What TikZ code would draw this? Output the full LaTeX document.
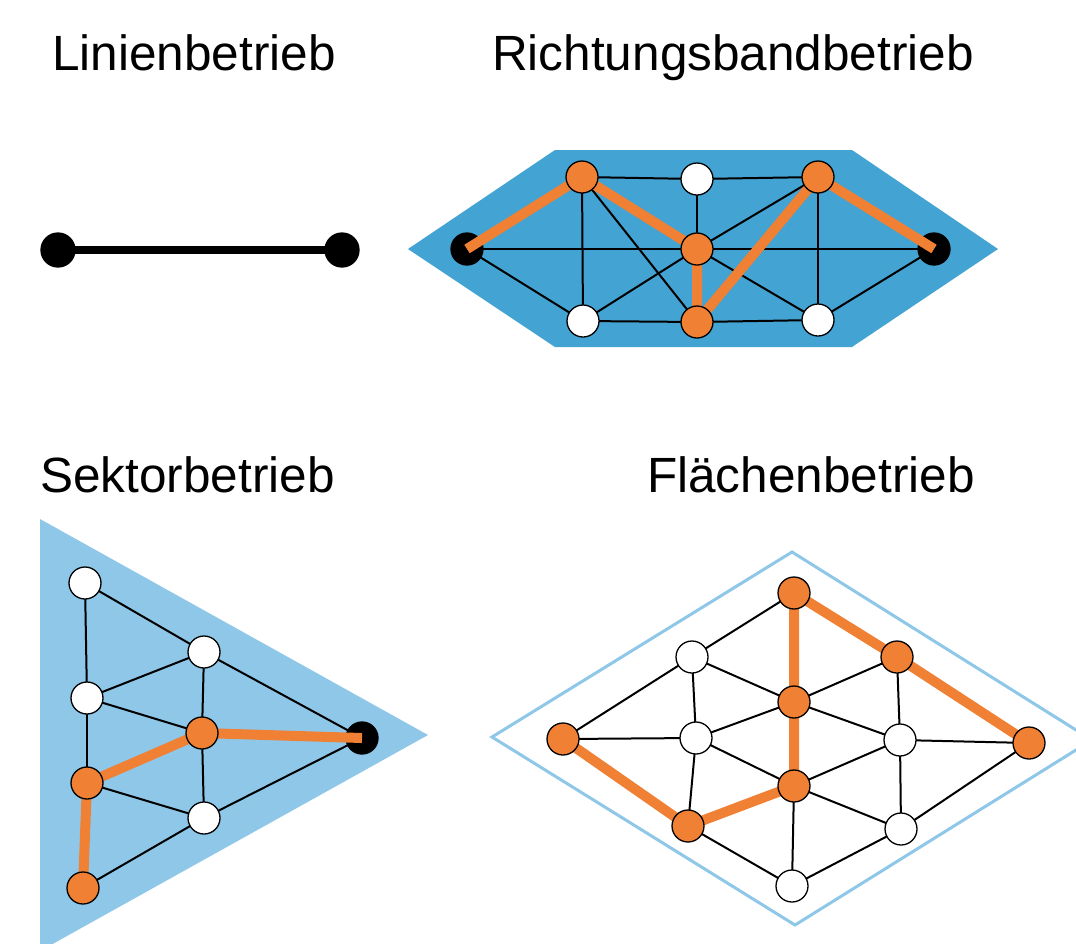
\documentclass[tikz,border=0pt]{standalone}
\usepackage{fontspec}
\setmainfont{Liberation Sans}
\definecolor{orng}{RGB}{240,128,52}
\definecolor{dblue}{RGB}{67,163,210}
\definecolor{lblue}{RGB}{142,199,232}
\pgfdeclarelayer{bg}
\pgfdeclarelayer{edges}
\pgfdeclarelayer{blk}
\pgfdeclarelayer{route}
\pgfsetlayers{bg,edges,blk,route,main}
\begin{document}
\begin{tikzpicture}[x=1pt,y=-1pt,
  vtx/.style={circle,draw=black,line width=1.3pt,minimum size=32pt,inner sep=0pt,outer sep=0pt},
  wv/.style={vtx,fill=white},
  ov/.style={vtx,fill=orng},
  bv/.style={vtx,fill=black},
  edge/.style={line width=2pt},
  route/.style={orng,line width=10pt,line cap=butt,line join=round},
  title/.style={anchor=base west,inner sep=0pt,font=\fontsize{49.5}{58}\selectfont}]
\clip (0,0) rectangle (1076,943);
% titles
\node[title] (t1) at (52,70) {Linienbetrieb};
\node[title] (t2) at (492,70) {Richtungsbandbetrieb};
\node[title] (t3) at (40,492) {Sektorbetrieb};
\node[title] (t4) at (647,492) {Flächenbetrieb};
% ---------- Linienbetrieb
\node[bv,minimum size=34pt] (la) at (58,250) {};
\node[bv,minimum size=34pt] (lb) at (342,250) {};
\begin{pgfonlayer}{edges}
\draw[line width=8pt] (la.center) -- (lb.center);
\end{pgfonlayer}
% ---------- Richtungsbandbetrieb
\begin{pgfonlayer}{bg}
\fill[dblue] (408,249) -- (555,150) -- (852,150) -- (998,249) -- (852,347) -- (555,347) -- cycle;
\end{pgfonlayer}
\begin{pgfonlayer}{blk}
\node[bv] (rbL) at (467,249) {};
\node[bv] (rbR) at (934,249) {};
\end{pgfonlayer}
\node[ov] (ro1) at (582,177) {};
\node[wv] (rwt) at (697,179) {};
\node[ov] (ro2) at (818,177) {};
\node[ov] (roc) at (697,249) {};
\node[wv] (rw1) at (583,321) {};
\node[ov] (rob) at (697,322) {};
\node[wv] (rw2) at (818,320) {};
\begin{pgfonlayer}{edges}
\draw[edge] (ro1) -- (rwt) -- (ro2);
\draw[edge] (rbL) -- (roc) -- (rbR);
\draw[edge] (rw1) -- (rob) -- (rw2);
\draw[edge] (rbL) -- (rw1);
\draw[edge] (ro1) -- (rw1);
\draw[edge] (ro1) -- (rob);
\draw[edge] (rwt) -- (roc);
\draw[edge] (ro2) -- (roc);
\draw[edge] (roc) -- (rw1);
\draw[edge] (roc) -- (rw2);
\draw[edge] (ro2) -- (rw2);
\draw[edge] (rw2) -- (rbR);
\end{pgfonlayer}
\begin{pgfonlayer}{route}
\draw[route] (rbL.center) -- (ro1.center) -- (roc.center) -- (rob.center) -- (ro2.center) -- (rbR.center);
\end{pgfonlayer}
% ---------- Sektorbetrieb
\begin{pgfonlayer}{bg}
\fill[lblue] (40,519) -- (428,735) -- (40,951) -- cycle;
\end{pgfonlayer}
\begin{pgfonlayer}{blk}
\node[bv] (sb) at (362,738) {};
\end{pgfonlayer}
\node[wv] (sw1) at (85,583) {};
\node[wv] (sw2) at (204,652) {};
\node[wv] (sw3) at (87,698) {};
\node[ov] (som) at (202,733) {};
\node[ov] (sol) at (87,783) {};
\node[wv] (sw4) at (204,818) {};
\node[ov] (sob) at (83,888) {};
\begin{pgfonlayer}{edges}
\draw[edge] (sw1) -- (sw2);
\draw[edge] (sw1) -- (sw3);
\draw[edge] (sw2) -- (sw3);
\draw[edge] (sw2) -- (som);
\draw[edge] (sw2) -- (sb);
\draw[edge] (sw3) -- (som);
\draw[edge] (sw3) -- (sol);
\draw[edge] (som) -- (sw4);
\draw[edge] (sol) -- (sw4);
\draw[edge] (sw4) -- (sb);
\draw[edge] (sw4) -- (sob);
\end{pgfonlayer}
\begin{pgfonlayer}{route}
\draw[route] (sob.center) -- (sol.center) -- (som.center) -- (sb.center);
\end{pgfonlayer}
% ---------- Flächenbetrieb
\begin{pgfonlayer}{bg}
\draw[lblue,line width=3pt,line join=miter] (792,552) -- (1092,740) -- (795,925) -- (492,737) -- cycle;
\end{pgfonlayer}
\node[ov] (ft) at (794,593) {};
\node[wv] (fwul) at (692,657) {};
\node[ov] (four) at (897,657) {};
\node[ov] (fc) at (794,702) {};
\node[ov] (fol) at (563,739) {};
\node[wv] (fwml) at (696,738) {};
\node[wv] (fwmr) at (900,740) {};
\node[ov] (for) at (1029,743) {};
\node[ov] (folc) at (794,786) {};
\node[ov] (fobl) at (688,826) {};
\node[wv] (fwbr) at (901,829) {};
\node[wv] (fwb) at (792,886) {};
\begin{pgfonlayer}{edges}
\draw[edge] (ft) -- (fwul);
\draw[edge] (fwul) -- (fol);
\draw[edge] (fwul) -- (fwml);
\draw[edge] (fwul) -- (fc);
\draw[edge] (four) -- (fc);
\draw[edge] (four) -- (fwmr);
\draw[edge] (fc) -- (fwml);
\draw[edge] (fc) -- (fwmr);
\draw[edge] (fol) -- (fwml);
\draw[edge] (fwml) -- (folc);
\draw[edge] (fwml) -- (fobl);
\draw[edge] (fwmr) -- (for);
\draw[edge] (fwmr) -- (folc);
\draw[edge] (fwmr) -- (fwbr);
\draw[edge] (for) -- (fwbr);
\draw[edge] (folc) -- (fwbr);
\draw[edge] (folc) -- (fwb);
\draw[edge] (fobl) -- (fwb);
\draw[edge] (fwbr) -- (fwb);
\end{pgfonlayer}
\begin{pgfonlayer}{route}
\draw[route] (fol.center) -- (fobl.center) -- (folc.center) -- (fc.center) -- (ft.center) -- (four.center) -- (for.center);
\end{pgfonlayer}
\end{tikzpicture}
\end{document}
